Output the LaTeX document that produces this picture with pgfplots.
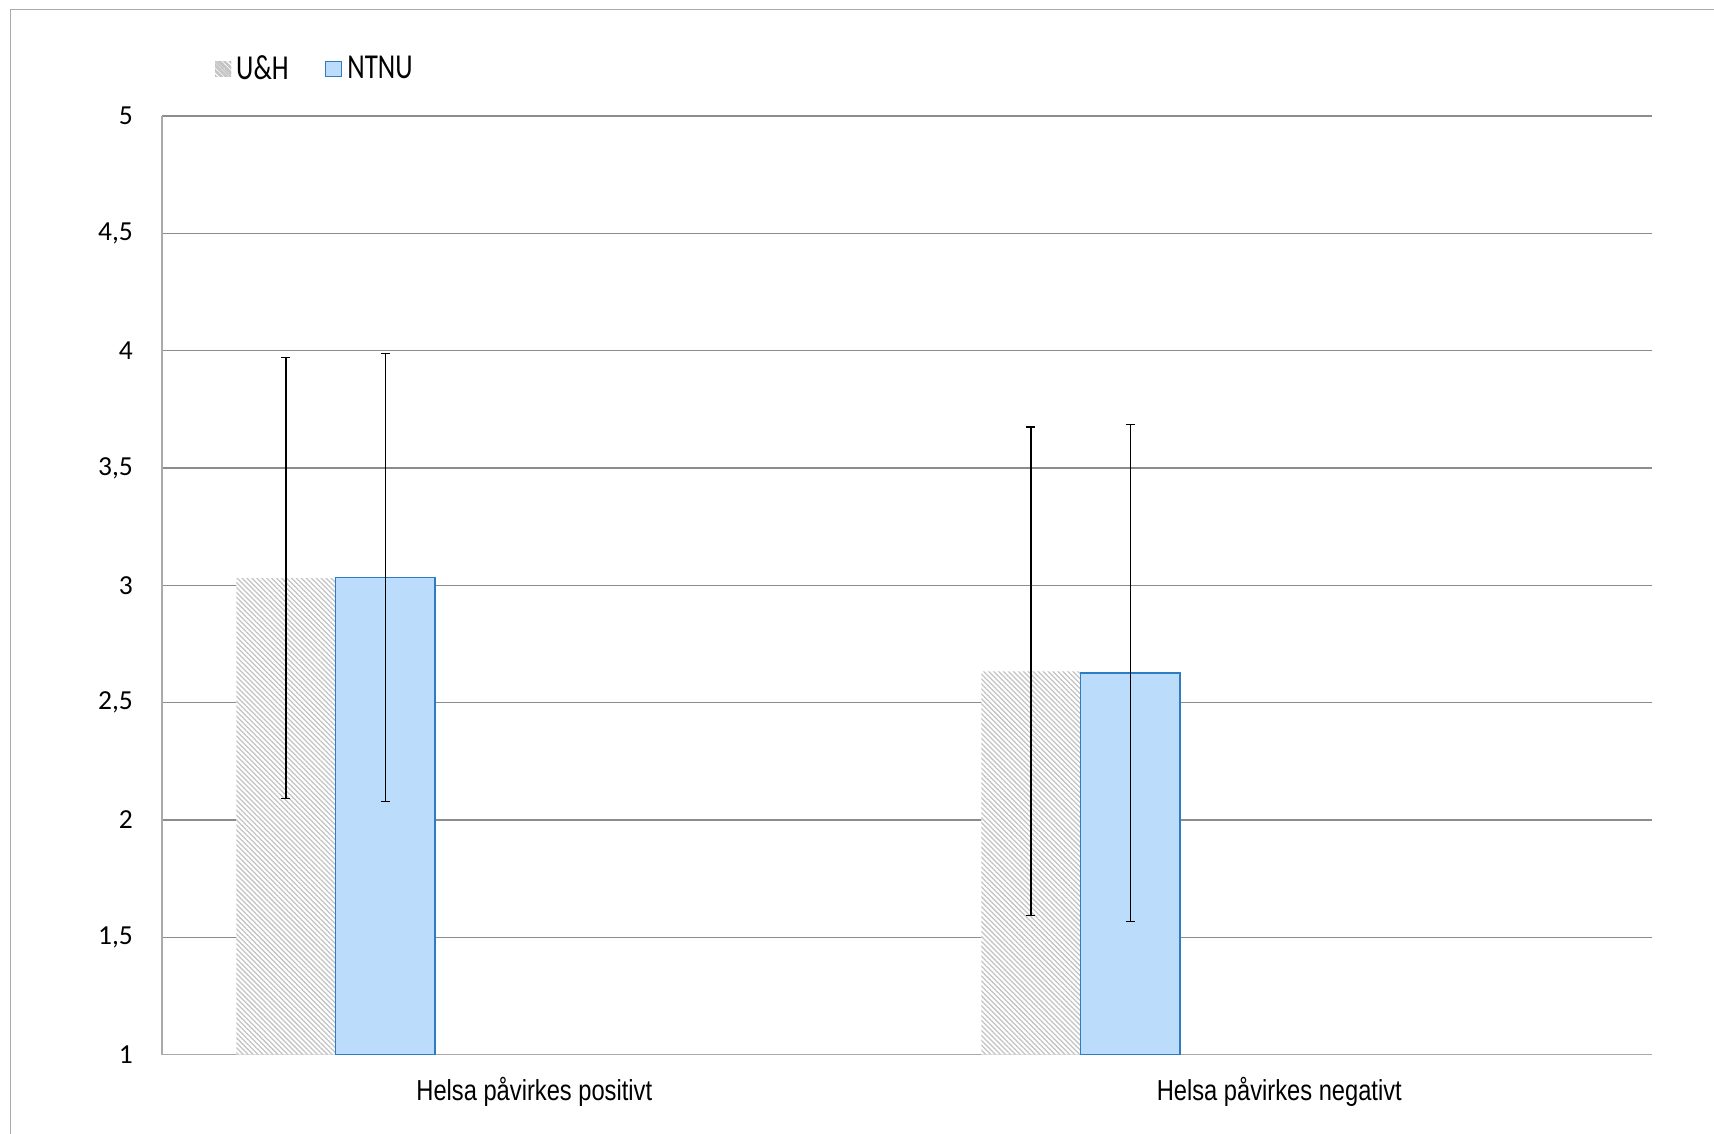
\documentclass[border=0pt]{standalone}
\usepackage{fontspec}
\usepackage{pgfplots}
\pgfplotsset{compat=1.18}
\usetikzlibrary{patterns.meta}

\newfontfamily\tickfont{Carlito}
\newfontfamily\legfont[FakeStretch=0.77]{Carlito}
\newfontfamily\catfont[FakeStretch=0.82]{Liberation Sans}

\definecolor{ntnufill}{RGB}{188,220,251}
\definecolor{ntnuedge}{RGB}{46,125,195}
\definecolor{hatchc}{RGB}{195,195,195}
\definecolor{gridc}{RGB}{140,140,140}
\definecolor{framec}{RGB}{170,170,170}

\begin{document}
\begin{tikzpicture}
% picture size fixed to the reference (1 px = 0.4pt)
\useasboundingbox (-64.72pt,-31.4pt) rectangle (620.88pt,421.8pt);
\draw[framec, line width=0.6pt] (-60.5pt,-40pt) -- (-60.5pt,418pt) -- (640pt,418pt);

\begin{axis}[
    at={(0pt,0pt)}, anchor=south west,
    scale only axis,
    width=596pt, height=375.4pt,
    xmin=-0.5, xmax=1.5,
    ymin=1, ymax=5,
    axis x line=bottom, axis y line=left,
    axis line style={draw=framec, line width=0.6pt, -},
    major tick length=0pt,
    ytick={1,1.5,2,2.5,3,3.5,4,4.5,5},
    xtick={0,1},
    xticklabels={Helsa påvirkes positivt, Helsa påvirkes negativt},
    ymajorgrids,
    grid style={gridc, line width=0.55pt},
    y tick label style={font=\tickfont\fontsize{11}{13}\selectfont,
        /pgf/number format/fixed,
        /pgf/number format/use comma,
        /pgf/number format/assume math mode=true,
        inner sep=0pt, xshift=-11.4pt},
    x tick label style={font=\catfont\fontsize{11.56}{14}\selectfont,
        anchor=base, inner sep=0pt, yshift=-18.2pt},
    legend columns=2,
    legend cell align=left,
    legend style={draw=none, fill=none, inner sep=0pt,
        at={(rel axis cs:0.0355,1.0500)}, anchor=west,
        font=\legfont\fontsize{14}{16}\selectfont,
        /tikz/every even column/.append style={column sep=12.5pt}},
]

% U&H
\addplot[ybar, bar width=0.1333, bar shift=0pt, draw=none, fill=white,
    postaction={pattern={Lines[angle=-45,distance=1.4pt,line width=0.5pt]}, pattern color=hatchc},
    legend image code/.code={
        \fill[white] (0pt,-3pt) rectangle (6.4pt,3pt);
        \fill[pattern={Lines[angle=-45,distance=1.6pt,line width=0.6pt]}, pattern color=hatchc]
            (0pt,-3pt) rectangle (6.4pt,3pt);},
    error bars/.cd, y dir=both, y explicit,
    error bar style={draw=black, line width=0.5pt},
    error mark options={rotate=90, draw=black, mark size=1.8pt, line width=0.5pt}]
coordinates {(-0.3333,3.030) +- (0,0.940) (0.6667,2.633) +- (0,1.042)};
\addlegendentry{U\&H}

% NTNU
\addplot[ybar, bar width=0.1333, bar shift=0pt, fill=ntnufill, draw=ntnuedge, line width=0.5pt,
    legend image code/.code={
        \draw[fill=ntnufill, draw=ntnuedge, line width=0.6pt] (0pt,-3pt) rectangle (6.4pt,3pt);},
    error bars/.cd, y dir=both, y explicit,
    error bar style={draw=black, line width=0.5pt},
    error mark options={rotate=90, draw=black, mark size=1.8pt, line width=0.5pt}]
coordinates {(-0.2,3.032) +- (0,0.955) (0.8,2.626) +- (0,1.058)};
\addlegendentry{NTNU}

\end{axis}
\end{tikzpicture}
\end{document}
